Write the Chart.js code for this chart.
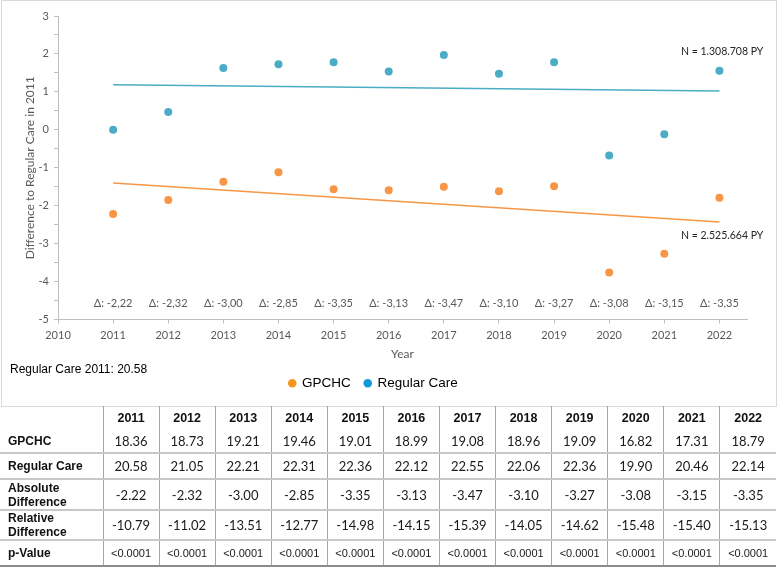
<!DOCTYPE html>
<html>
<head>
<meta charset="utf-8">
<script src="https://cdn.jsdelivr.net/npm/chart.js@4/dist/chart.umd.min.js"></script>
<style>
  body { margin: 0; background: #fff; width: 779px; height: 569px; position: relative; overflow: hidden; }
  #chartWrap { position: absolute; left: 0; top: 0; width: 779px; height: 406px; }
  #frame { position: absolute; left: 1px; top: 0; width: 776px; height: 407px; border: 1px solid #d9d9d9; box-sizing: border-box; pointer-events: none; }
  #dataTable { position: absolute; left: 0; top: 406px; width: 776px; border-collapse: collapse; table-layout: fixed; }
  #dataTable td, #dataTable th { padding: 0; text-align: center; border-left: 1px solid #a6a6a6; }
  #dataTable th { font: bold 12.5px "Liberation Sans", Arial, sans-serif; color: #111; }
  #dataTable td { font: 13px Lato, sans-serif; color: #1a1a1a; }
  #dataTable tr.pval td { font: 11px "Liberation Sans", Arial, sans-serif; }
  #dataTable tr td:first-child, #dataTable tr th:first-child { border-left: none; text-align: left; padding-left: 8px;
    font: bold 12px "Liberation Sans", Arial, sans-serif; line-height: 14px; color: #111; }
  #dataTable tr.line td { border-bottom: 2px solid #c8c8c8; }
  #dataTable tr.last td { border-bottom: 2px solid #8c8c8c; }
</style>
</head>
<body>
<div id="chartWrap"><canvas id="diffChart" width="779" height="406"></canvas></div>
<div id="frame"></div>
<table id="dataTable"></table>
<script>
const years = [2011, 2012, 2013, 2014, 2015, 2016, 2017, 2018, 2019, 2020, 2021, 2022];
const xTickYears = [2010, 2011, 2012, 2013, 2014, 2015, 2016, 2017, 2018, 2019, 2020, 2021, 2022];
const gpchcDiff = [-2.22, -1.85, -1.37, -1.12, -1.57, -1.59, -1.50, -1.62, -1.49, -3.76, -3.27, -1.79];
const regularDiff = [0.00, 0.47, 1.63, 1.73, 1.78, 1.54, 1.97, 1.48, 1.78, -0.68, -0.12, 1.56];
const trendYears = [2011, 2022];
const gpchcTrend = [-1.40, -2.43];
const regularTrend = [1.19, 1.02];
const deltaLabels = ['Δ: -2,22', 'Δ: -2,32', 'Δ: -3,00', 'Δ: -2,85', 'Δ: -3,35', 'Δ: -3,13',
                     'Δ: -3,47', 'Δ: -3,10', 'Δ: -3,27', 'Δ: -3,08', 'Δ: -3,15', 'Δ: -3,35'];
const nLabels = ['N = 1.308.708 PY', 'N = 2.525.664 PY'];
const nLabelPos = [[2022.05, 2.05], [2022.05, -2.80]];

// table values
const gpchcRate = ['18.36', '18.73', '19.21', '19.46', '19.01', '18.99', '19.08', '18.96', '19.09', '16.82', '17.31', '18.79'];
const regularRate = ['20.58', '21.05', '22.21', '22.31', '22.36', '22.12', '22.55', '22.06', '22.36', '19.90', '20.46', '22.14'];
const absDiff = ['-2.22', '-2.32', '-3.00', '-2.85', '-3.35', '-3.13', '-3.47', '-3.10', '-3.27', '-3.08', '-3.15', '-3.35'];
const relDiff = ['-10.79', '-11.02', '-13.51', '-12.77', '-14.98', '-14.15', '-15.39', '-14.05', '-14.62', '-15.48', '-15.40', '-15.13'];
const pValues = Array(12).fill('<0.0001');

const orange = '#f79646';
const blue = '#4bacc6';
const legendColors = ['#f7941d', '#0f9bd7'];
const axisGray = '#bfbfbf';
const tickFont = { family: 'Lato', size: 11 };

const toPoints = (xs, ys) => xs.map((x, i) => ({ x: x, y: ys[i] }));

// text drawn on the plot: deltas, N counts, baseline note
const annotations = {
    id: 'annotations',
    afterDatasetsDraw(chart) {
        const { ctx, scales: { x, y } } = chart;
        ctx.save();
        ctx.textAlign = 'center';
        ctx.textBaseline = 'middle';
        ctx.font = '11px Lato';
        ctx.fillStyle = '#595959';
        years.forEach((yr, i) => {
            ctx.fillText(deltaLabels[i], x.getPixelForValue(yr), y.getPixelForValue(-4.57));
        });
        ctx.font = '10.5px Lato';
        ctx.fillStyle = '#262626';
        nLabels.forEach((t, i) => {
            ctx.fillText(t, x.getPixelForValue(nLabelPos[i][0]), y.getPixelForValue(nLabelPos[i][1]));
        });
        ctx.textAlign = 'left';
        ctx.font = '12px "Liberation Sans", Arial';
        ctx.fillStyle = '#000';
        ctx.fillText('Regular Care 2011: 20.58', 10, 370);
        ctx.restore();
    }
};

new Chart(document.getElementById('diffChart'), {
    type: 'scatter',
    data: {
        datasets: [
            {
                label: 'GPCHC',
                data: toPoints(years, gpchcDiff),
                backgroundColor: orange,
                borderWidth: 0,
                pointRadius: 4,
            },
            {
                label: 'Regular Care',
                data: toPoints(years, regularDiff),
                backgroundColor: blue,
                borderWidth: 0,
                pointRadius: 4,
            },
            {
                type: 'line',
                label: 'trend-gpchc',
                data: toPoints(trendYears, gpchcTrend),
                borderColor: orange,
                borderWidth: 1.5,
                pointRadius: 0,
            },
            {
                type: 'line',
                label: 'trend-regular',
                data: toPoints(trendYears, regularTrend),
                borderColor: blue,
                borderWidth: 1.5,
                pointRadius: 0,
            },
        ],
    },
    options: {
        responsive: false,
        animation: false,
        layout: { padding: { top: 16, left: 0, right: 32, bottom: 6 } },
        plugins: {
            tooltip: { enabled: false },
            legend: {
                position: 'bottom',
                labels: {
                    usePointStyle: true,
                    pointStyle: 'circle',
                    boxWidth: 6,
                    boxHeight: 6,
                    padding: 14,
                    color: '#000',
                    font: { family: '"Liberation Sans", Arial', size: 13.5 },
                    filter: (item) => item.datasetIndex < 2,
                    generateLabels: (chart) => chart.data.datasets.map((ds, i) => ({
                        text: ds.label,
                        fillStyle: legendColors[i] || ds.borderColor,
                        strokeStyle: legendColors[i] || ds.borderColor,
                        lineWidth: 0,
                        pointStyle: 'circle',
                        datasetIndex: i,
                        hidden: false,
                    })),
                },
            },
        },
        scales: {
            x: {
                type: 'linear',
                min: 2010,
                max: 2022.5,
                afterBuildTicks: (scale) => { scale.ticks = xTickYears.map(v => ({ value: v })); },
                afterFit: (scale) => { scale.height = 43; },
                ticks: { color: '#595959', font: tickFont, padding: 5, callback: (v) => String(v) },
                grid: { drawOnChartArea: false, tickLength: 4, color: axisGray },
                border: { color: axisGray },
                title: { display: true, text: 'Year', color: '#595959', font: { family: 'Lato', size: 12 }, padding: { top: 4, bottom: 1 } },
            },
            y: {
                min: -5,
                max: 3,
                afterFit: (scale) => { scale.width = 58; },
                ticks: {
                    stepSize: 0.5,
                    color: '#595959',
                    font: tickFont,
                    padding: 5,
                    callback: (v) => Number.isInteger(v) ? String(v) : '',
                },
                grid: { drawOnChartArea: false, tickLength: 4, color: axisGray },
                border: { color: axisGray },
                title: {
                    display: true,
                    text: 'Difference to Regular Care in 2011',
                    color: '#595959',
                    font: { family: 'Lato', size: 12 },
                    padding: { top: 23, bottom: 0 },
                },
            },
        },
    },
    plugins: [annotations],
});

// table below the chart
const rows = [
    { label: 'GPCHC', values: gpchcRate, cls: 'line', h: 23 },
    { label: 'Regular Care', values: regularRate, cls: 'line', h: 26 },
    { label: 'Absolute<br>Difference', values: absDiff, cls: 'line', h: 31 },
    { label: 'Relative<br>Difference', values: relDiff, cls: 'line', h: 29 },
    { label: 'p-Value', values: pValues, cls: 'last pval', h: 26 },
];
const table = document.getElementById('dataTable');
let html = '<colgroup><col style="width:103px">' + years.map(() => '<col>').join('') + '</colgroup>';
html += '<tr style="height:24px"><th></th>' + years.map(y => '<th>' + y + '</th>').join('') + '</tr>';
rows.forEach(r => {
    html += '<tr class="' + r.cls + '" style="height:' + r.h + 'px"><td>' + r.label + '</td>' +
        r.values.map(v => '<td>' + v + '</td>').join('') + '</tr>';
});
table.innerHTML = html;
</script>
</body>
</html>
